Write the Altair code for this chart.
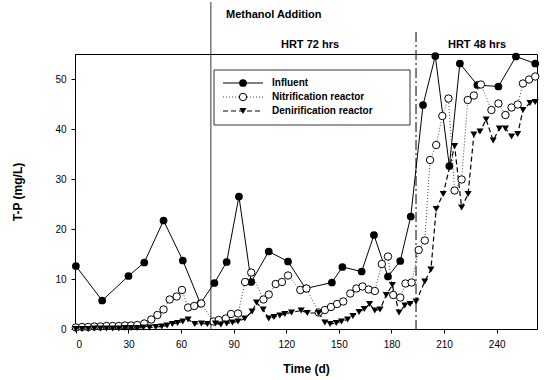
import altair as alt
import pandas as pd

# Sampling days and total phosphorus (mg/L) for each stream
inf_day = [0, 15, 30, 39, 50, 61, 71, 79, 86, 93, 100, 110, 121, 131, 146, 152, 163,
           170, 178, 185, 191, 198, 205, 213, 219, 229, 241, 251, 262]
inf_val = [12.6, 5.7, 10.6, 13.3, 21.7, 13.7, 5.1, 9.2, 13.4, 26.5, 9.4, 15.5, 13.5,
           8.1, 9.3, 12.4, 11.5, 18.8, 10.5, 13.6, 22.5, 44.8, 54.6, 32.6, 53.1, 48.8,
           48.5, 54.5, 53.1]

nit_day = [0, 3.5, 7, 10.5, 14, 17.5, 21, 24.5, 28, 31.5, 35, 39, 43, 46.5, 50, 53.5,
           57.5, 60.5, 64, 67.5, 71.5, 78.5, 81.5, 85.5, 88.5, 92.5, 96.5, 100, 107, 110,
           114, 117.5, 121, 128, 131.5, 138.5, 142, 145.5, 149, 152.5, 156.5, 160, 163.5,
           167, 170.5, 174.5, 178, 181, 185, 188, 191.5, 195.5, 199, 202, 205.5, 209,
           212.5, 216, 220, 223.5, 227, 231, 237, 241, 245, 248.5, 252, 255, 258.5, 262]
nit_val = [0.3, 0.4, 0.4, 0.5, 0.5, 0.6, 0.6, 0.6, 0.7, 0.7, 0.8, 1.1, 1.9, 2.8, 3.9, 5.9,
           6.5, 7.8, 4.3, 4.6, 5.1, 1.5, 1.8, 2.1, 3.0, 3.1, 9.4, 11.3, 5.9, 6.9, 9.0, 9.4,
           10.7, 7.8, 8.1, 3.3, 3.8, 4.4, 5.0, 5.5, 7.1, 8.1, 8.5, 7.9, 7.6, 13.0, 14.5,
           6.8, 6.3, 9.1, 9.3, 15.8, 17.7, 33.8, 36.8, 42.6, 46.1, 27.7, 29.9, 45.8, 46.7,
           48.9, 43.8, 45.1, 42.8, 44.3, 44.9, 49.1, 49.9, 50.5]

den_day = [0, 3.5, 7, 10.5, 14, 17.5, 21, 24.5, 28, 31.5, 35, 38.5, 42, 45.5, 49, 52, 55,
           58, 61, 64, 67.8, 71.6, 75, 79.6, 82.7, 86, 89.3, 92.5, 96.3, 100.5, 103,
           106.8, 110, 113, 116.3, 119.2, 123, 128.5, 132, 138.5, 142, 145, 148.5, 151.5,
           155, 158, 161.5, 164.5, 167.5, 170.5, 173.5, 177, 180.5, 184.3, 187.6, 190.6,
           194, 199, 202.5, 205.5, 209.5, 216, 220, 223.7, 227, 230.5, 234, 238, 241.5,
           245, 248.5, 252, 255, 259, 262]
den_val = [0.0, 0.0, 0.0, 0.1, 0.1, 0.1, 0.1, 0.1, 0.2, 0.2, 0.2, 0.3, 0.3, 0.4, 0.5, 0.7,
           1.0, 1.2, 1.5, 1.9, 1.0, 1.1, 1.0, 1.1, 0.9, 1.1, 1.3, 1.5, 2.1, 3.5, 5.3, 3.9,
           2.1, 2.4, 2.7, 3.0, 3.3, 3.7, 3.2, 3.2, 1.3, 1.0, 1.2, 1.5, 1.9, 2.6, 3.4, 4.0,
           5.0, 3.7, 3.9, 6.8, 8.8, 3.3, 4.7, 5.0, 5.5, 9.5, 11.9, 24.0, 27.0, 36.6, 24.3,
           27.0, 38.9, 39.5, 41.9, 37.7, 40.1, 40.1, 38.5, 39.0, 43.8, 45.2, 45.4]

series_names = ["Influent", "Nitrification reactor", "Denirification reactor"]
x_ticks = [0, 30, 60, 90, 120, 150, 180, 210, 240]
y_ticks = [0, 10, 20, 30, 40, 50]
methanol_day = 77
hrt_change_day = 194

FONT = "Liberation Sans"
W, H = 462, 275

inf = pd.DataFrame({"day": inf_day, "tp": inf_val})
nit = pd.DataFrame({"day": nit_day, "tp": nit_val})
den = pd.DataFrame({"day": den_day, "tp": den_val})

xs = alt.Scale(domain=[-0.5, 263], nice=False, zero=False)
ys = alt.Scale(domain=[0, 55], nice=False)

X = alt.X("day:Q", scale=xs, axis=alt.Axis(
    values=x_ticks, title="Time (d)", grid=False, tickSize=4, labelPadding=6,
    titlePadding=14))
Y = alt.Y("tp:Q", scale=ys, axis=alt.Axis(
    values=y_ticks, title="T-P (mg/L)", grid=False, tickSize=4, labelPadding=5,
    titlePadding=30))

inf_line = alt.Chart(inf).mark_line(color="black", strokeWidth=1).encode(x=X, y=Y)
nit_line = alt.Chart(nit).mark_line(color="#444444", strokeWidth=1,
                                    strokeDash=[1, 2]).encode(x=X, y=Y)
den_line = alt.Chart(den).mark_line(color="black", strokeWidth=1.2,
                                    strokeDash=[5, 3]).encode(x=X, y=Y)

inf_pts = alt.Chart(inf).mark_point(shape="circle", filled=True, color="black",
                                    size=60, opacity=1).encode(x=X, y=Y)
nit_pts = alt.Chart(nit).mark_point(shape="circle", fill="white", stroke="black",
                                    strokeWidth=1, size=55, opacity=1,
                                    fillOpacity=1).encode(x=X, y=Y)
den_pts = alt.Chart(den).mark_point(shape="triangle-down", filled=True, color="black",
                                    size=50, opacity=1).encode(x=X, y=Y)

# Phase markers: methanol dosing start and HRT change
marks_df = pd.DataFrame({"day": [methanol_day]})
methanol_rule = alt.Chart(marks_df).mark_rule(color="black", strokeWidth=0.8).encode(
    x=alt.X("day:Q", scale=xs), y=alt.value(-52), y2=alt.value(H))
hrt_df = pd.DataFrame({"day": [hrt_change_day]})
hrt_rule = alt.Chart(hrt_df).mark_rule(color="black", strokeWidth=1,
                                       strokeDash=[10, 3, 2, 3]).encode(
    x=alt.X("day:Q", scale=xs), y=alt.value(-22), y2=alt.value(H))

def label(text, x, y, align):
    return alt.Chart(pd.DataFrame({"t": [text]})).mark_text(
        font=FONT, fontSize=11, fontWeight="bold", align=align, baseline="middle",
        color="black").encode(text="t:N", x=alt.value(x), y=alt.value(y))

methanol_txt = label("Methanol Addition", 151, -39, "left")
hrt72_txt = label("HRT 72 hrs", 235, -9, "center")
hrt48_txt = label("HRT 48 hrs", 402, -9, "center")

# Legend box with line + marker samples
LX0, LX1, LY0, LY1 = 139, 335, 16, 71
row_y = [29, 43, 57]
sym_x0, sym_x1, sym_xm, txt_x = 148, 188, 168, 197
one = pd.DataFrame({"k": [0]})
legend_box = alt.Chart(one).mark_rect(fill="white", stroke="black",
                                      strokeWidth=0.8).encode(
    x=alt.value(LX0), x2=alt.value(LX1), y=alt.value(LY0), y2=alt.value(LY1))

leg_layers = [legend_box]
line_styles = [dict(color="black", strokeWidth=1),
               dict(color="#444444", strokeWidth=1, strokeDash=[1, 2]),
               dict(color="black", strokeWidth=1.2, strokeDash=[5, 3])]
point_styles = [dict(shape="circle", filled=True, color="black", size=60, opacity=1),
                dict(shape="circle", fill="white", stroke="black", strokeWidth=1,
                     size=55, opacity=1, fillOpacity=1),
                dict(shape="triangle-down", filled=True, color="black", size=50,
                     opacity=1)]
for name, ry, ls, ps in zip(series_names, row_y, line_styles, point_styles):
    leg_layers.append(alt.Chart(one).mark_rule(**ls).encode(
        x=alt.value(sym_x0), x2=alt.value(sym_x1), y=alt.value(ry)))
    leg_layers.append(alt.Chart(one).mark_point(**ps).encode(
        x=alt.value(sym_xm), y=alt.value(ry)))
    leg_layers.append(alt.Chart(pd.DataFrame({"t": [name]})).mark_text(
        font=FONT, fontSize=10, fontWeight="bold", align="left", baseline="middle",
        color="black").encode(text="t:N", x=alt.value(txt_x), y=alt.value(ry)))

chart = alt.layer(
    methanol_rule, hrt_rule,
    inf_line, nit_line, den_line,
    inf_pts, nit_pts, den_pts,
    methanol_txt, hrt72_txt, hrt48_txt,
    *leg_layers,
).properties(
    width=W, height=H,
    autosize=alt.AutoSizeParams(type="none"),
    padding={"left": 75, "top": 54, "right": 8, "bottom": 51},
    background="white",
).configure_view(
    stroke="black", strokeWidth=1
).configure_axis(
    labelFont=FONT, labelFontSize=10, labelColor="black",
    titleFont=FONT, titleFontSize=12, titleFontWeight="bold", titleColor="black",
    domainColor="black", tickColor="black", domainWidth=1,
)

chart.save("out.html", embed_options={"renderer": "svg", "actions": False})
